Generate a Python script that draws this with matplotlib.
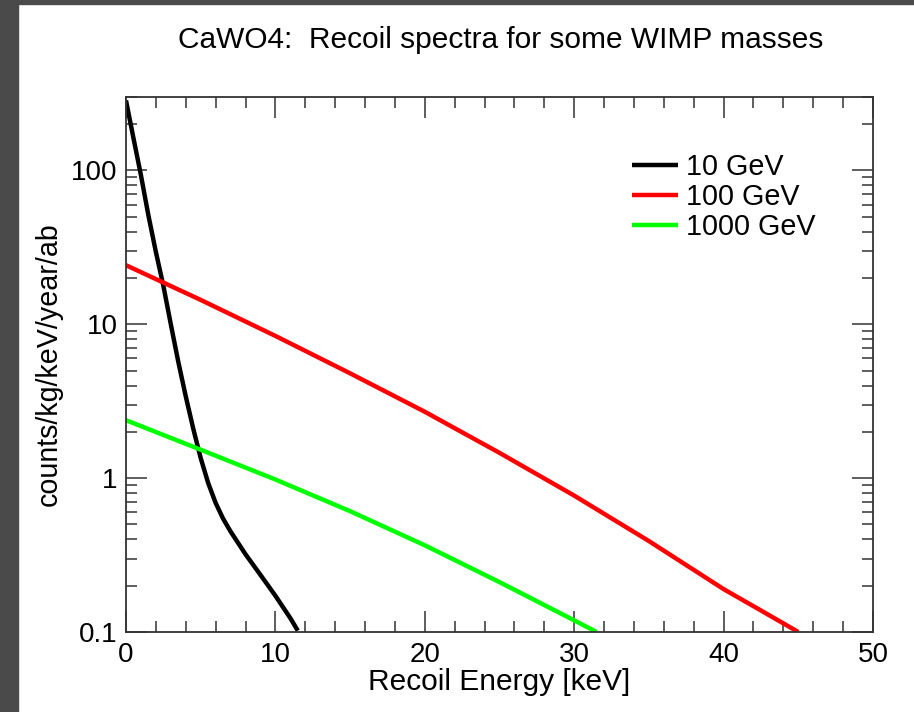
import numpy as np
import matplotlib

matplotlib.use("Agg")
import matplotlib.pyplot as plt
from matplotlib.patches import Rectangle
from matplotlib.ticker import MultipleLocator, LogLocator, FixedLocator, FixedFormatter

plt.rcParams["font.family"] = ["Liberation Sans", "DejaVu Sans"]

# Recoil spectra (energy in keV, rate in counts/kg/keV/year/ab)
e_10 = [0, 0.5, 1, 1.5, 2, 2.5, 3, 3.5, 4, 4.5, 5, 5.5, 6, 6.5, 7, 8, 9, 10, 11, 11.5]
r_10 = [285, 162, 93, 51, 29.5, 17.8, 10.0, 5.7, 3.4, 2.1, 1.35, 0.93, 0.69, 0.545,
        0.45, 0.32, 0.235, 0.172, 0.123, 0.102]

e_100 = [0, 5, 10, 15, 20, 25, 30, 35, 40, 42.5, 45]
r_100 = [24.2, 14.4, 8.4, 4.8, 2.7, 1.46, 0.77, 0.39, 0.19, 0.138, 0.1]

e_1000 = [0, 5, 10, 15, 20, 25, 30, 31.5]
r_1000 = [2.38, 1.53, 0.98, 0.61, 0.366, 0.211, 0.119, 0.1]

labels = ["10 GeV", "100 GeV", "1000 GeV"]
colors = ["black", "#ff0000", "#00ff00"]

fig = plt.figure(figsize=(9.14, 7.12), dpi=100)
# dark frame strips on left and top
fig.patches.append(Rectangle((0, 0), 18 / 914, 1, transform=fig.transFigure,
                             color="#4a4a4a", zorder=0))
fig.patches.append(Rectangle((0, 1 - 4 / 712), 1, 4 / 712, transform=fig.transFigure,
                             color="#4a4a4a", zorder=0))

ax = fig.add_axes([126 / 914, 1 - 632 / 712, (873 - 126) / 914, (632 - 97) / 712])

for e, r, lab, c in zip([e_10, e_100, e_1000], [r_10, r_100, r_1000], labels, colors):
    ax.plot(e, r, color=c, lw=3.2, label=lab, solid_capstyle="butt",
            solid_joinstyle="round")

ax.set_yscale("log")
ax.set_xlim(0, 50)
ax.set_ylim(0.1, 300)

ax.xaxis.set_major_locator(MultipleLocator(10))
ax.xaxis.set_minor_locator(MultipleLocator(2))
ax.yaxis.set_major_locator(FixedLocator([0.1, 1, 10, 100]))
ax.yaxis.set_major_formatter(FixedFormatter(["0.1", "1", "10", "100"]))
ax.yaxis.set_minor_locator(LogLocator(base=10, subs=np.arange(2, 10)))
ax.yaxis.set_minor_formatter(plt.NullFormatter())

ax.tick_params(which="both", direction="in", top=True, right=True,
               color="#333333", width=1.1, labelsize=20)
ax.tick_params(which="major", length=15)
ax.tick_params(which="minor", length=8)
ax.tick_params(axis="x", which="major", pad=7)
ax.tick_params(axis="y", which="major", pad=6)
for sp in ax.spines.values():
    sp.set_color("#333333")
    sp.set_linewidth(1.3)

ax.set_xlabel("Recoil Energy [keV]", fontsize=21.5, labelpad=0)
ax.set_ylabel("counts/kg/keV/year/ab", fontsize=20.6, labelpad=6)
fig.text(501 / 914, 1 - 40 / 712, "CaWO4:  Recoil spectra for some WIMP masses",
         ha="center", va="center", fontsize=21.5)

ax.legend(loc="upper left", bbox_to_anchor=(0.677, 0.895), frameon=False,
          fontsize=20.7, handlelength=1.6, handletextpad=0.3, labelspacing=0.06,
          borderpad=0, borderaxespad=0)

fig.savefig("out.png", dpi=100)
